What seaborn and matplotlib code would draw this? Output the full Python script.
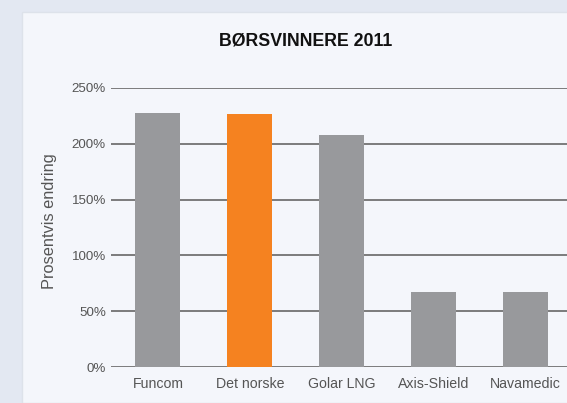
import matplotlib
matplotlib.use("Agg")
import matplotlib.pyplot as plt
import matplotlib.patches as mpatches
import seaborn as sns
import pandas as pd

# data
selskaper = ["Funcom", "Det norske", "Golar LNG", "Axis-Shield", "Navamedic"]
endring = [227.4, 226.5, 207.6, 66.8, 66.8]
farger = ["#98999c", "#f58220", "#98999c", "#98999c", "#98999c"]
yticks = [0, 50, 100, 150, 200, 250]

df = pd.DataFrame({"selskap": selskaper, "endring": endring})

sns.set_theme(style="white")
plt.rcParams["font.family"] = ["Liberation Sans", "DejaVu Sans"]

W, H = 567, 403
fig = plt.figure(figsize=(W / 100, H / 100), dpi=100)
fig.patch.set_facecolor("#e3e8f2")

# light panel behind the chart
panel = mpatches.Rectangle((22 / W, 0), 1, 1 - 12 / H, transform=fig.transFigure,
                           facecolor="#f4f6fb", edgecolor="#dde2ea", linewidth=1.0, zorder=-10)
fig.patches.append(panel)

ax = fig.add_axes([111 / W, 36 / H, (W - 111) / W, (367 - 88) / H])
ax.set_facecolor("none")

sns.barplot(data=df, x="selskap", y="endring", hue="selskap", palette=farger,
            width=0.49, legend=False, ax=ax, saturation=1, linewidth=0, zorder=3)

ax.set_xlim(-0.51, 4.45)
ax.set_ylim(0, 250)
ax.set_yticks(yticks)
ax.set_yticklabels([f"{t}%" for t in yticks])
ax.set_xlabel("")
ax.set_ylabel("")

ax.yaxis.grid(True, color="#727272", linewidth=1.3, zorder=1)
ax.set_axisbelow(True)
for s in ax.spines.values():
    s.set_visible(False)

ax.tick_params(axis="y", length=0, pad=3.6, labelsize=9.6, labelcolor="#555555")
ax.tick_params(axis="x", length=0, pad=7, labelsize=10.2, labelcolor="#555555")

fig.text(305.5 / W, 1 - 40.8 / H, "BØRSVINNERE 2011", ha="center", va="center",
         fontsize=12.8, fontweight="bold", color="#111111")
fig.text(50 / W, 1 - 221 / H, "Prosentvis endring", ha="center", va="center",
         rotation=90, fontsize=11.8, color="#555555")

fig.savefig("out.png", dpi=100, facecolor=fig.get_facecolor())
